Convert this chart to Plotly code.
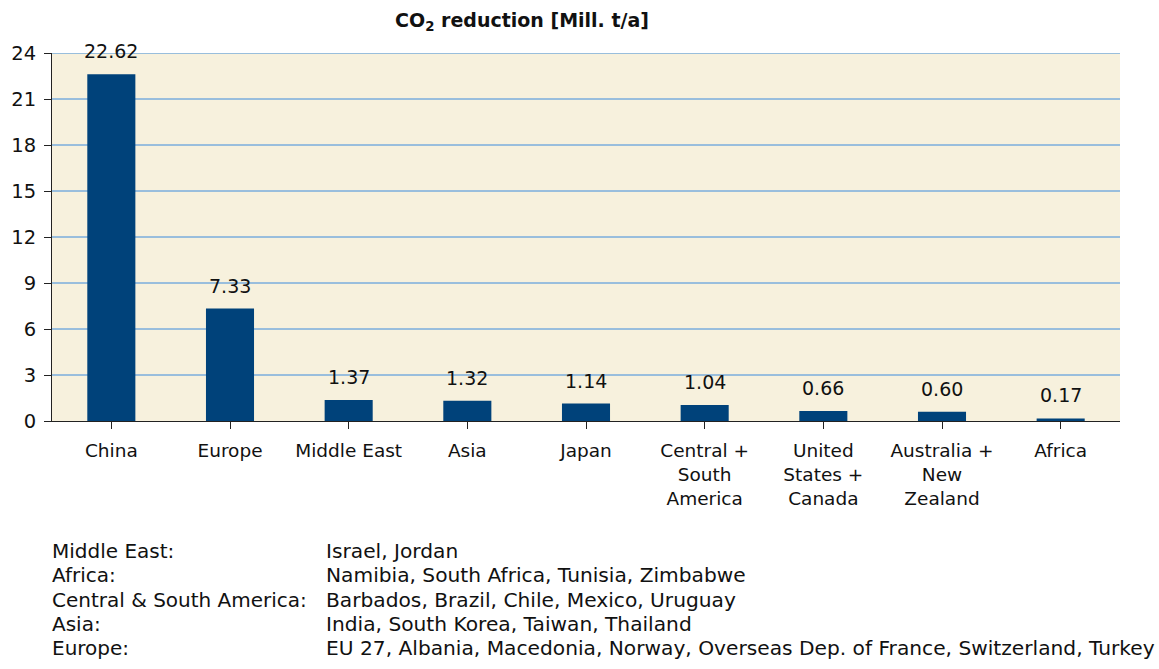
import plotly.graph_objects as go

categories = ["China", "Europe", "Middle East", "Asia", "Japan",
              "Central +<br>South<br>America", "United<br>States +<br>Canada",
              "Australia +<br>New<br>Zealand", "Africa"]
values = [22.62, 7.33, 1.37, 1.32, 1.14, 1.04, 0.66, 0.60, 0.17]
y_ticks = [0, 3, 6, 9, 12, 15, 18, 21, 24]

note_regions = ["Middle East:", "Africa:", "Central & South America:", "Asia:", "Europe:"]
note_countries = ["Israel, Jordan",
                  "Namibia, South Africa, Tunisia, Zimbabwe",
                  "Barbados, Brazil, Chile, Mexico, Uruguay",
                  "India, South Korea, Taiwan, Thailand",
                  "EU 27, Albania, Macedonia, Norway, Overseas Dep. of France, Switzerland, Turkey"]

FONT = "DejaVu Sans, Verdana, sans-serif"
W, H = 1159, 669
L, R, T, B = 52, 39, 53, 248
pw, ph = W - L - R, H - T - B

fig = go.Figure(go.Bar(
    x=list(range(len(categories))), y=values,
    marker=dict(color="#00427a", line=dict(width=0)),
    width=0.405, hoverinfo="x+y",
))

for i, v in enumerate(values):
    fig.add_annotation(x=i, y=v, text=f"{v:.2f}", showarrow=False,
                       xref="x", yref="y", yanchor="bottom", yshift=10,
                       font=dict(size=19, family=FONT, color="#111111"))

# horizontal grid lines drawn as shapes below the bars, at the y tick values
for t in y_ticks[1:]:
    fig.add_shape(type="line", xref="paper", yref="y", x0=0, x1=1, y0=t, y1=t,
                  line=dict(color="#3d8bdc", width=1), layer="below")


def px_x(x):
    return (x - L) / pw


def px_y(y):
    return (H - B - y) / ph


fig.update_layout(
    template="none",
    width=W, height=H,
    margin=dict(l=L, r=R, t=T, b=B),
    paper_bgcolor="white", plot_bgcolor="#f7f1dd",
    font=dict(family=FONT, size=19, color="#111111"),
    showlegend=False,
    title=dict(text="<b>CO<sub>2</sub> reduction [Mill. t/a]</b>",
               x=522 / W, xanchor="center", xref="container",
               y=1 - 20 / H, yanchor="middle", yref="container",
               font=dict(size=19, family=FONT, color="#111111")),
    xaxis=dict(tickmode="array", tickvals=list(range(len(categories))),
               ticktext=categories, range=[-0.5, len(categories) - 0.5],
               showline=True, linecolor="#222222", linewidth=1,
               ticks="outside", ticklen=7, tickcolor="#222222",
               tickson="boundaries", showgrid=False, zeroline=False,
               ticklabelstandoff=6,
               tickfont=dict(size=18.5, family=FONT)),
    yaxis=dict(range=[0, 24], tickvals=y_ticks, showline=True,
               linecolor="#222222", linewidth=1, ticks="outside", ticklen=7,
               tickcolor="#222222", showgrid=False,
               zeroline=False, ticklabelstandoff=4,
               tickfont=dict(size=19.5, family=FONT)),
    bargap=0.6,
)

y0, dy = 551, 24.3
for k, (lab, cty) in enumerate(zip(note_regions, note_countries)):
    yy = px_y(y0 + k * dy)
    fig.add_annotation(text=lab, xref="paper", yref="paper",
                       x=px_x(50), y=yy, xanchor="left", yanchor="middle",
                       align="left", showarrow=False, font=dict(size=20, family=FONT))
    fig.add_annotation(text=cty, xref="paper", yref="paper",
                       x=px_x(324), y=yy, xanchor="left", yanchor="middle",
                       align="left", showarrow=False, font=dict(size=20.2, family=FONT))

fig.write_html("out.html")
